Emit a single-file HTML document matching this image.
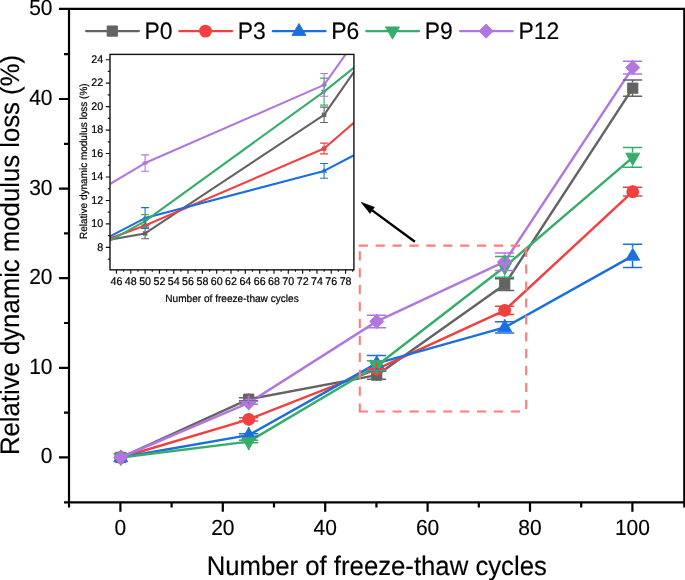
<!DOCTYPE html>
<html lang="en">
<head>
<meta charset="utf-8">
<title>Relative dynamic modulus loss vs. number of freeze-thaw cycles</title>
<style>
html,body{margin:0;padding:0;background:#fff;}
body{width:685px;height:580px;overflow:hidden;font-family:"Liberation Sans",Arial,sans-serif;}
svg{display:block;}
</style>
</head>
<body>
<svg width="685" height="580" viewBox="0 0 685 580" font-family="'Liberation Sans', Arial, sans-serif" text-rendering="geometricPrecision">
<rect width="685" height="580" fill="#fff"/>
<g id="main-series" stroke-linejoin="round">
<g id="s-P0">
<polyline points="120.75,457.5 248.75,399.17 376.75,375.16 504.75,284.57 632.75,88.17" fill="none" stroke="#636363" stroke-width="2.45"/>
<rect x="115.6" y="452.35" width="10.3" height="10.3" fill="#636363" stroke="#636363" stroke-width="0.9" stroke-linejoin="round"/>
<rect x="243.6" y="394.02" width="10.3" height="10.3" fill="#636363" stroke="#636363" stroke-width="0.9" stroke-linejoin="round"/>
<rect x="371.6" y="370.01" width="10.3" height="10.3" fill="#636363" stroke="#636363" stroke-width="0.9" stroke-linejoin="round"/>
<rect x="499.6" y="279.42" width="10.3" height="10.3" fill="#636363" stroke="#636363" stroke-width="0.9" stroke-linejoin="round"/>
<rect x="627.6" y="83.02" width="10.3" height="10.3" fill="#636363" stroke="#636363" stroke-width="0.9" stroke-linejoin="round"/>
</g>
<g id="s-P3">
<polyline points="120.75,457.5 248.75,419.33 376.75,369.06 504.75,310.29 632.75,191.66" fill="none" stroke="#F14040" stroke-width="2.45"/>
<circle cx="120.75" cy="457.5" r="6.4" fill="#F14040"/>
<circle cx="248.75" cy="419.33" r="6.4" fill="#F14040"/>
<circle cx="376.75" cy="369.06" r="6.4" fill="#F14040"/>
<circle cx="504.75" cy="310.29" r="6.4" fill="#F14040"/>
<circle cx="632.75" cy="191.66" r="6.4" fill="#F14040"/>
</g>
<g id="s-P6">
<polyline points="120.75,457.5 248.75,435.1 376.75,363.42 504.75,327.4 632.75,255.9" fill="none" stroke="#1A6FDF" stroke-width="2.45"/>
<polygon points="120.75,449.9 127.75,461.8 113.75,461.8" fill="#1A6FDF" stroke="#1A6FDF" stroke-width="0.9" stroke-linejoin="round"/>
<polygon points="248.75,427.5 255.75,439.4 241.75,439.4" fill="#1A6FDF" stroke="#1A6FDF" stroke-width="0.9" stroke-linejoin="round"/>
<polygon points="376.75,355.82 383.75,367.72 369.75,367.72" fill="#1A6FDF" stroke="#1A6FDF" stroke-width="0.9" stroke-linejoin="round"/>
<polygon points="504.75,319.8 511.75,331.7 497.75,331.7" fill="#1A6FDF" stroke="#1A6FDF" stroke-width="0.9" stroke-linejoin="round"/>
<polygon points="632.75,248.3 639.75,260.2 625.75,260.2" fill="#1A6FDF" stroke="#1A6FDF" stroke-width="0.9" stroke-linejoin="round"/>
</g>
<g id="s-P9">
<polyline points="120.75,457.5 248.75,441.6 376.75,365.75 504.75,266.83 632.75,157.34" fill="none" stroke="#37AD6B" stroke-width="2.45"/>
<polygon points="120.75,465.6 127.75,453.3 113.75,453.3" fill="#37AD6B" stroke="#37AD6B" stroke-width="0.9" stroke-linejoin="round"/>
<polygon points="248.75,449.7 255.75,437.4 241.75,437.4" fill="#37AD6B" stroke="#37AD6B" stroke-width="0.9" stroke-linejoin="round"/>
<polygon points="376.75,373.85 383.75,361.55 369.75,361.55" fill="#37AD6B" stroke="#37AD6B" stroke-width="0.9" stroke-linejoin="round"/>
<polygon points="504.75,274.93 511.75,262.63 497.75,262.63" fill="#37AD6B" stroke="#37AD6B" stroke-width="0.9" stroke-linejoin="round"/>
<polygon points="632.75,165.44 639.75,153.14 625.75,153.14" fill="#37AD6B" stroke="#37AD6B" stroke-width="0.9" stroke-linejoin="round"/>
</g>
<g id="s-P12">
<polyline points="120.75,457.5 248.75,402.84 376.75,321.4 504.75,261.72 632.75,67.56" fill="none" stroke="#B177DE" stroke-width="2.45"/>
<polygon points="120.75,450.45 127.8,457.5 120.75,464.55 113.7,457.5" fill="#B177DE" stroke="#B177DE" stroke-width="0.9" stroke-linejoin="round"/>
<polygon points="248.75,395.79 255.8,402.84 248.75,409.89 241.7,402.84" fill="#B177DE" stroke="#B177DE" stroke-width="0.9" stroke-linejoin="round"/>
<polygon points="376.75,314.35 383.8,321.4 376.75,328.45 369.7,321.4" fill="#B177DE" stroke="#B177DE" stroke-width="0.9" stroke-linejoin="round"/>
<polygon points="504.75,254.67 511.8,261.72 504.75,268.77 497.7,261.72" fill="#B177DE" stroke="#B177DE" stroke-width="0.9" stroke-linejoin="round"/>
<polygon points="632.75,60.51 639.8,67.56 632.75,74.61 625.7,67.56" fill="#B177DE" stroke="#B177DE" stroke-width="0.9" stroke-linejoin="round"/>
</g>
</g>
<g id="main-errorbars">
<path d="M238.9 397.67H258.2M238.9 400.67H258.2M248.55 397.67V393.57M248.55 400.67V404.77" stroke="#636363" stroke-width="1.5" fill="none"/>
<path d="M366.9 371.13H386.2M366.9 379.19H386.2M376.55 371.13V369.56M376.55 379.19V380.76" stroke="#636363" stroke-width="1.5" fill="none"/>
<path d="M494.9 278.66H514.2M494.9 290.49H514.2M504.55 278.66V278.97M504.55 290.49V290.17" stroke="#636363" stroke-width="1.5" fill="none"/>
<path d="M622.9 80.02H642.2M622.9 96.32H642.2M632.55 80.02V82.57M632.55 96.32V93.77" stroke="#636363" stroke-width="1.5" fill="none"/>
<path d="M238.9 417.68H258.2M238.9 420.98H258.2M248.55 417.68V412.93M248.55 420.98V425.73" stroke="#F14040" stroke-width="1.5" fill="none"/>
<path d="M366.9 368.71H386.2M366.9 369.42H386.2M376.55 368.71V362.66M376.55 369.42V375.46" stroke="#F14040" stroke-width="1.5" fill="none"/>
<path d="M494.9 306.17H514.2M494.9 314.41H514.2M504.55 306.17V303.89M504.55 314.41V316.69" stroke="#F14040" stroke-width="1.5" fill="none"/>
<path d="M622.9 187.31H642.2M622.9 196H642.2M632.55 187.31V185.26M632.55 196V198.06" stroke="#F14040" stroke-width="1.5" fill="none"/>
<path d="M238.9 433.85H258.2M238.9 436.35H258.2M248.55 433.85V427.05M248.55 436.35V439.85" stroke="#1A6FDF" stroke-width="1.5" fill="none"/>
<path d="M366.9 355.49H386.2M366.9 371.35H386.2M376.55 355.49V355.37M376.55 371.35V368.17" stroke="#1A6FDF" stroke-width="1.5" fill="none"/>
<path d="M494.9 321.76H514.2M494.9 333.05H514.2M504.55 321.76V319.35M504.55 333.05V332.15" stroke="#1A6FDF" stroke-width="1.5" fill="none"/>
<path d="M622.9 244.25H642.2M622.9 267.55H642.2M632.55 244.25V247.85M632.55 267.55V260.65" stroke="#1A6FDF" stroke-width="1.5" fill="none"/>
<path d="M238.9 440.34H258.2M238.9 442.85H258.2M248.55 440.34V436.75M248.55 442.85V449.95" stroke="#37AD6B" stroke-width="1.5" fill="none"/>
<path d="M366.9 360.82H386.2M366.9 370.68H386.2M376.55 360.82V360.9M376.55 370.68V374.1" stroke="#37AD6B" stroke-width="1.5" fill="none"/>
<path d="M494.9 256.53H514.2M494.9 277.14H514.2M504.55 256.53V261.98M504.55 277.14V275.18" stroke="#37AD6B" stroke-width="1.5" fill="none"/>
<path d="M622.9 147.48H642.2M622.9 167.2H642.2M632.55 147.48V152.49M632.55 167.2V165.69" stroke="#37AD6B" stroke-width="1.5" fill="none"/>
<path d="M238.9 401.52H258.2M238.9 404.17H258.2M248.55 401.52V395.54M248.55 404.17V410.14" stroke="#B177DE" stroke-width="1.5" fill="none"/>
<path d="M366.9 315.13H386.2M366.9 327.67H386.2M376.55 315.13V314.1M376.55 327.67V328.7" stroke="#B177DE" stroke-width="1.5" fill="none"/>
<path d="M494.9 253.03H514.2M494.9 270.42H514.2M504.55 253.03V254.42M504.55 270.42V269.02" stroke="#B177DE" stroke-width="1.5" fill="none"/>
<path d="M622.9 61.15H642.2M622.9 73.97H642.2M632.55 61.15V60.26M632.55 73.97V74.86" stroke="#B177DE" stroke-width="1.5" fill="none"/>
</g>
<g id="zoom-box" fill="none" stroke="#FF7C7C" stroke-width="2.1">
<path d="M358.7 245.6H526.2M526.2 247.7V411.5M358.7 411.5H526.2M359.8 412.6V245.6" stroke-dasharray="9.2 7.7"/>
</g>
<g id="arrow">
<line x1="372.22" y1="210.37" x2="414.9" y2="241.7" stroke="#000" stroke-width="2.4"/>
<polygon points="361.1,202.2 370,213.39 374.44,207.34" fill="#000" stroke="#000" stroke-width="0.6" stroke-linejoin="round"/>
</g>
<g id="main-axes" stroke="#000" stroke-width="2.2" fill="none">
<path d="M59.0 8.95H685.3M684.3 8.95V507.45M69.0 8.95V507.45M64.0 502.45H685.3"/>
<path d="M120.4 502.45V511.75M171.6 502.45V507.45M222.8 502.45V511.75M274 502.45V507.45M325.2 502.45V511.75M376.4 502.45V507.45M427.6 502.45V511.75M478.8 502.45V507.45M530 502.45V511.75M581.2 502.45V507.45M632.4 502.45V511.75M69.0 457.4H59M69.0 412.6H64M69.0 367.8H59M69.0 323H64M69.0 278.2H59M69.0 233.4H64M69.0 188.6H59M69.0 143.8H64M69.0 99H59M69.0 54.2H64"/>
</g>
<g id="main-ticklabels" font-size="21" fill="#000" stroke="#000" stroke-width="0.15">
<text transform="translate(120.4 535.4) scale(1 1.042)" text-anchor="middle">0</text>
<text transform="translate(222.8 535.4) scale(1 1.042)" text-anchor="middle">20</text>
<text transform="translate(325.2 535.4) scale(1 1.042)" text-anchor="middle">40</text>
<text transform="translate(427.6 535.4) scale(1 1.042)" text-anchor="middle">60</text>
<text transform="translate(530 535.4) scale(1 1.042)" text-anchor="middle">80</text>
<text transform="translate(632.4 535.4) scale(1 1.042)" text-anchor="middle">100</text>
<text transform="translate(52.5 463.3) scale(1 1.042)" text-anchor="end">0</text>
<text transform="translate(52.5 373.7) scale(1 1.042)" text-anchor="end">10</text>
<text transform="translate(52.5 284.1) scale(1 1.042)" text-anchor="end">20</text>
<text transform="translate(52.5 194.5) scale(1 1.042)" text-anchor="end">30</text>
<text transform="translate(52.5 104.9) scale(1 1.042)" text-anchor="end">40</text>
<text transform="translate(52.5 15.3) scale(1 1.042)" text-anchor="end">50</text>
</g>
<g id="main-titles" font-size="25.73" fill="#000" stroke="#000" stroke-width="0.15">
<text transform="translate(376.75 574.8) scale(1 1.042)" text-anchor="middle">Number of freeze-thaw cycles</text>
<text transform="translate(19 255) rotate(-90) scale(1 1.042)" text-anchor="middle">Relative dynamic modulus loss (%)</text>
</g>
<g id="legend" font-size="22.9" fill="#000" stroke-width="0.15">
<line x1="86.1" y1="31.1" x2="138.9" y2="31.1" stroke="#636363" stroke-width="2.2" stroke-linecap="round"/>
<rect x="107.15" y="25.95" width="10.3" height="10.3" fill="#636363" stroke="#636363" stroke-width="0.9" stroke-linejoin="round"/>
<text transform="translate(144.6 38.6) scale(1 1.042)" stroke="#000">P0</text>
<line x1="179.3" y1="31.1" x2="232.1" y2="31.1" stroke="#F14040" stroke-width="2.2" stroke-linecap="round"/>
<circle cx="205.5" cy="31.1" r="6.4" fill="#F14040"/>
<text transform="translate(237.8 38.6) scale(1 1.042)" stroke="#000">P3</text>
<line x1="272.8" y1="31.1" x2="325.6" y2="31.1" stroke="#1A6FDF" stroke-width="2.2" stroke-linecap="round"/>
<polygon points="299,23.5 306,35.4 292,35.4" fill="#1A6FDF" stroke="#1A6FDF" stroke-width="0.9" stroke-linejoin="round"/>
<text transform="translate(331.3 38.6) scale(1 1.042)" stroke="#000">P6</text>
<line x1="366.3" y1="31.1" x2="419.1" y2="31.1" stroke="#37AD6B" stroke-width="2.2" stroke-linecap="round"/>
<polygon points="392.5,39.2 399.5,26.9 385.5,26.9" fill="#37AD6B" stroke="#37AD6B" stroke-width="0.9" stroke-linejoin="round"/>
<text transform="translate(424.8 38.6) scale(1 1.042)" stroke="#000">P9</text>
<line x1="460" y1="31.1" x2="512.8" y2="31.1" stroke="#B177DE" stroke-width="2.2" stroke-linecap="round"/>
<polygon points="486.2,24.05 493.25,31.1 486.2,38.15 479.15,31.1" fill="#B177DE" stroke="#B177DE" stroke-width="0.9" stroke-linejoin="round"/>
<text transform="translate(518.5 38.6) scale(1 1.042)" stroke="#000">P12</text>
</g>
<defs><clipPath id="insetclip"><rect x="110" y="54.4" width="243.9" height="215.45"/></clipPath></defs>
<rect x="110" y="54.4" width="243.9" height="215.45" fill="#fff"/>
<g id="inset-series" clip-path="url(#insetclip)" stroke-linejoin="round">
<polyline points="-212.9,341.22 -33.9,264.86 145.1,233.42 324.1,114.83 503.1,-142.29" fill="none" stroke="#636363" stroke-width="2.05"/>
<rect x="143.04" y="231.36" width="4.12" height="4.12" fill="#636363" stroke="#636363" stroke-width="0.36" stroke-linejoin="round"/>
<rect x="322.04" y="112.77" width="4.12" height="4.12" fill="#636363" stroke="#636363" stroke-width="0.36" stroke-linejoin="round"/>
<polyline points="-212.9,341.22 -33.9,291.25 145.1,225.44 324.1,148.5 503.1,-6.81" fill="none" stroke="#F14040" stroke-width="2.05"/>
<circle cx="145.1" cy="225.44" r="2.56" fill="#F14040"/>
<circle cx="324.1" cy="148.5" r="2.56" fill="#F14040"/>
<polyline points="-212.9,341.22 -33.9,311.9 145.1,218.06 324.1,170.9 503.1,77.3" fill="none" stroke="#1A6FDF" stroke-width="2.05"/>
<polygon points="145.1,215.02 147.9,219.78 142.3,219.78" fill="#1A6FDF" stroke="#1A6FDF" stroke-width="0.36" stroke-linejoin="round"/>
<polygon points="324.1,167.86 326.9,172.62 321.3,172.62" fill="#1A6FDF" stroke="#1A6FDF" stroke-width="0.36" stroke-linejoin="round"/>
<polyline points="-212.9,341.22 -33.9,320.4 145.1,221.1 324.1,91.61 503.1,-51.73" fill="none" stroke="#37AD6B" stroke-width="2.05"/>
<polygon points="145.1,224.34 147.9,219.42 142.3,219.42" fill="#37AD6B" stroke="#37AD6B" stroke-width="0.36" stroke-linejoin="round"/>
<polygon points="324.1,94.85 326.9,89.93 321.3,89.93" fill="#37AD6B" stroke="#37AD6B" stroke-width="0.36" stroke-linejoin="round"/>
<polyline points="-212.9,341.22 -33.9,269.67 145.1,163.04 324.1,84.92 503.1,-169.27" fill="none" stroke="#B177DE" stroke-width="2.05"/>
<polygon points="145.1,160.22 147.92,163.04 145.1,165.86 142.28,163.04" fill="#B177DE" stroke="#B177DE" stroke-width="0.36" stroke-linejoin="round"/>
<polygon points="324.1,82.1 326.92,84.92 324.1,87.74 321.28,84.92" fill="#B177DE" stroke="#B177DE" stroke-width="0.36" stroke-linejoin="round"/>
<path d="M141.1 228.14H149.1M141.1 238.7H149.1M145.1 228.14V231.18M145.1 238.7V235.66" stroke="#636363" stroke-width="1.1" fill="none"/>
<path d="M320.1 107.09H328.1M320.1 122.57H328.1M324.1 107.09V112.59M324.1 122.57V117.07" stroke="#636363" stroke-width="1.1" fill="none"/>
<path d="M141.1 224.98H149.1M141.1 225.91H149.1M145.1 224.98V222.88M145.1 225.91V228" stroke="#F14040" stroke-width="1.1" fill="none"/>
<path d="M320.1 143.1H328.1M320.1 153.89H328.1M324.1 143.1V145.94M324.1 153.89V151.06" stroke="#F14040" stroke-width="1.1" fill="none"/>
<path d="M141.1 207.67H149.1M141.1 228.44H149.1M145.1 207.67V214.84M145.1 228.44V219.96" stroke="#1A6FDF" stroke-width="1.1" fill="none"/>
<path d="M320.1 163.51H328.1M320.1 178.29H328.1M324.1 163.51V167.68M324.1 178.29V172.8" stroke="#1A6FDF" stroke-width="1.1" fill="none"/>
<path d="M141.1 214.65H149.1M141.1 227.56H149.1M145.1 214.65V219.16M145.1 227.56V224.44" stroke="#37AD6B" stroke-width="1.1" fill="none"/>
<path d="M320.1 78.12H328.1M320.1 105.1H328.1M324.1 78.12V89.67M324.1 105.1V94.95" stroke="#37AD6B" stroke-width="1.1" fill="none"/>
<path d="M141.1 154.83H149.1M141.1 171.25H149.1M145.1 154.83V160.12M145.1 171.25V165.96" stroke="#B177DE" stroke-width="1.1" fill="none"/>
<path d="M320.1 73.54H328.1M320.1 96.3H328.1M324.1 73.54V82M324.1 96.3V87.84" stroke="#B177DE" stroke-width="1.1" fill="none"/>
</g>
<g id="inset-axes" stroke="#111" stroke-width="1.4" fill="none">
<rect x="110" y="54.4" width="243.9" height="215.45"/>
<path d="M116.46 269.85v3.9M123.62 269.85v2M130.78 269.85v3.9M137.94 269.85v2M145.1 269.85v3.9M152.26 269.85v2M159.42 269.85v3.9M166.58 269.85v2M173.74 269.85v3.9M180.9 269.85v2M188.06 269.85v3.9M195.22 269.85v2M202.38 269.85v3.9M209.54 269.85v2M216.7 269.85v3.9M223.86 269.85v2M231.02 269.85v3.9M238.18 269.85v2M245.34 269.85v3.9M252.5 269.85v2M259.66 269.85v3.9M266.82 269.85v2M273.98 269.85v3.9M281.14 269.85v2M288.3 269.85v3.9M295.46 269.85v2M302.62 269.85v3.9M309.78 269.85v2M316.94 269.85v3.9M324.1 269.85v2M331.26 269.85v3.9M338.42 269.85v2M345.58 269.85v3.9M352.74 269.85v2M110.0 259.11h-2.2M110.0 247.38h-4.2M110.0 235.65h-2.2M110.0 223.92h-4.2M110.0 212.19h-2.2M110.0 200.46h-4.2M110.0 188.73h-2.2M110.0 177h-4.2M110.0 165.27h-2.2M110.0 153.54h-4.2M110.0 141.81h-2.2M110.0 130.08h-4.2M110.0 118.35h-2.2M110.0 106.62h-4.2M110.0 94.89h-2.2M110.0 83.16h-4.2M110.0 71.43h-2.2M110.0 59.7h-4.2" stroke-width="1.15"/>
</g>
<g id="inset-labels" font-size="10.7" fill="#000" stroke="#000" stroke-width="0.2">
<text transform="translate(116.46 284.6) scale(1 1.042)" text-anchor="middle">46</text>
<text transform="translate(130.78 284.6) scale(1 1.042)" text-anchor="middle">48</text>
<text transform="translate(145.1 284.6) scale(1 1.042)" text-anchor="middle">50</text>
<text transform="translate(159.42 284.6) scale(1 1.042)" text-anchor="middle">52</text>
<text transform="translate(173.74 284.6) scale(1 1.042)" text-anchor="middle">54</text>
<text transform="translate(188.06 284.6) scale(1 1.042)" text-anchor="middle">56</text>
<text transform="translate(202.38 284.6) scale(1 1.042)" text-anchor="middle">58</text>
<text transform="translate(216.7 284.6) scale(1 1.042)" text-anchor="middle">60</text>
<text transform="translate(231.02 284.6) scale(1 1.042)" text-anchor="middle">62</text>
<text transform="translate(245.34 284.6) scale(1 1.042)" text-anchor="middle">64</text>
<text transform="translate(259.66 284.6) scale(1 1.042)" text-anchor="middle">66</text>
<text transform="translate(273.98 284.6) scale(1 1.042)" text-anchor="middle">68</text>
<text transform="translate(288.3 284.6) scale(1 1.042)" text-anchor="middle">70</text>
<text transform="translate(302.62 284.6) scale(1 1.042)" text-anchor="middle">72</text>
<text transform="translate(316.94 284.6) scale(1 1.042)" text-anchor="middle">74</text>
<text transform="translate(331.26 284.6) scale(1 1.042)" text-anchor="middle">76</text>
<text transform="translate(345.58 284.6) scale(1 1.042)" text-anchor="middle">78</text>
<text transform="translate(103.2 250.68) scale(1 1.042)" text-anchor="end">8</text>
<text transform="translate(103.2 227.22) scale(1 1.042)" text-anchor="end">10</text>
<text transform="translate(103.2 203.76) scale(1 1.042)" text-anchor="end">12</text>
<text transform="translate(103.2 180.3) scale(1 1.042)" text-anchor="end">14</text>
<text transform="translate(103.2 156.84) scale(1 1.042)" text-anchor="end">16</text>
<text transform="translate(103.2 133.38) scale(1 1.042)" text-anchor="end">18</text>
<text transform="translate(103.2 109.92) scale(1 1.042)" text-anchor="end">20</text>
<text transform="translate(103.2 86.46) scale(1 1.042)" text-anchor="end">22</text>
<text transform="translate(103.2 63) scale(1 1.042)" text-anchor="end">24</text>
<text transform="translate(232 301.8) scale(1 1.042)" text-anchor="middle" font-size="10.1">Number of freeze-thaw cycles</text>
<text transform="translate(87.4 161.2) rotate(-90) scale(1 1.042)" text-anchor="middle" font-size="10.0">Relative dynamic modulus loss (%)</text>
</g>
</svg>
</body>
</html>
